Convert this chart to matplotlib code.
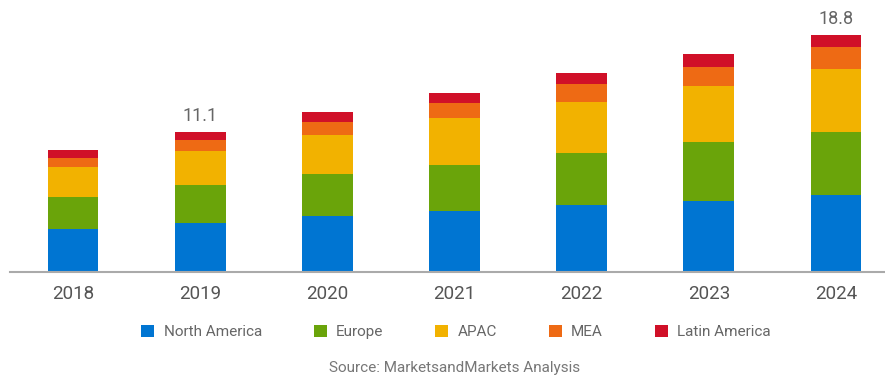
import matplotlib.pyplot as plt
from matplotlib.patches import Patch
import numpy as np

plt.rcParams['font.family'] = ['Roboto', 'DejaVu Sans']

years = ["2018", "2019", "2020", "2021", "2022", "2023", "2024"]
regions = ["North America", "Europe", "APAC", "MEA", "Latin America"]

north_america = [3.39, 3.83, 4.37, 4.82, 5.27, 5.61, 6.09]
europe = [2.51, 3.07, 3.36, 3.65, 4.17, 4.68, 5.00]
apac = [2.38, 2.64, 3.13, 3.75, 4.02, 4.44, 4.98]
mea = [0.75, 0.90, 1.00, 1.14, 1.40, 1.53, 1.71]
latin_america = [0.63, 0.66, 0.79, 0.84, 0.87, 0.98, 1.02]

# only two bars carry a total label
labelled = {"2019": "11.1", "2024": "18.8"}

colors = ["#0075D2", "#6AA40A", "#F2B200", "#EE6A14", "#D01028"]

fig = plt.figure(figsize=(8.85, 3.82), dpi=100)
px_per_unit = 12.6
base_px = 271.5
top_px = 5
ax = fig.add_axes([10 / 885, (382 - base_px) / 382, 875 / 885, (base_px - top_px) / 382])

x = np.arange(len(years))
bottom = np.zeros(len(years))
for vals, col in zip([north_america, europe, apac, mea, latin_america], colors):
    ax.bar(x, vals, width=0.4, bottom=bottom, color=col, linewidth=0)
    bottom += np.array(vals)

for i, yr in enumerate(years):
    if yr in labelled:
        ax.annotate(labelled[yr], (x[i], float(labelled[yr])), xytext=(0, 11.5),
                    textcoords="offset points", ha="center", va="center",
                    fontsize=13, color="#666666")

ax.set_xlim(-0.495, 6.385)
ax.set_ylim(0, (base_px - top_px) / px_per_unit)
ax.set_xticks(x)
ax.set_xticklabels(years, fontsize=13.5, color="#555555")
ax.tick_params(axis="x", length=0, pad=10)
ax.set_yticks([])
for side in ["top", "left", "right"]:
    ax.spines[side].set_visible(False)
ax.spines["bottom"].set_color("#aaaaaa")
ax.spines["bottom"].set_linewidth(1.5)

handles = [Patch(facecolor=c, edgecolor="none") for c in colors]
fig.legend(handles, regions, loc="center", bbox_to_anchor=(456 / 885, 1 - 332 / 382),
           ncol=5, frameon=False, fontsize=11, labelcolor="#666666",
           handlelength=0.85, handleheight=0.85, handletextpad=0.6, columnspacing=3.4)

fig.text(455 / 885, 1 - 368 / 382, "Source: MarketsandMarkets Analysis",
         ha="center", va="center", fontsize=11, color="#777777")

fig.savefig("out.png", dpi=100)
